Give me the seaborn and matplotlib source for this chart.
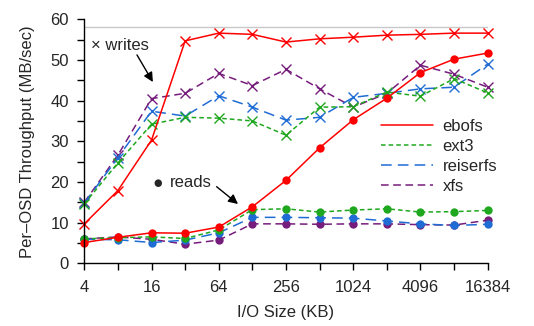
import numpy as np
import pandas as pd
import matplotlib
matplotlib.use("Agg")
import matplotlib.pyplot as plt
import seaborn as sns
from matplotlib.lines import Line2D
from matplotlib.ticker import FixedLocator, MultipleLocator, NullFormatter

sizes = [4, 8, 16, 32, 64, 128, 256, 512, 1024, 2048, 4096, 8192, 16384]
tick_labels = ["4", "16", "64", "256", "1024", "4096", "16384"]
fs_names = ["ebofs", "ext3", "reiserfs", "xfs"]

writes_ebofs = [9.7, 17.9, 30.3, 54.7, 56.6, 56.3, 54.4, 55.2, 55.6, 56.1, 56.3, 56.6, 56.6]
writes_ext3 = [14.6, 24.7, 34.2, 35.9, 35.7, 35.0, 31.5, 38.4, 38.5, 42.1, 41.1, 45.4, 41.9]
writes_reiserfs = [14.8, 26.0, 37.4, 36.2, 41.2, 38.4, 35.2, 35.9, 40.8, 41.8, 42.9, 43.3, 49.0]
writes_xfs = [15.0, 26.6, 40.5, 41.8, 46.7, 43.7, 47.7, 42.9, 38.4, 41.8, 48.7, 46.5, 43.3]

reads_ebofs = [5.1, 6.4, 7.5, 7.4, 8.9, 13.9, 20.4, 28.4, 35.3, 40.6, 46.9, 50.2, 51.7]
reads_ext3 = [6.0, 6.3, 6.5, 6.1, 8.2, 13.2, 13.4, 12.6, 13.1, 13.4, 12.6, 12.7, 13.0]
reads_reiserfs = [5.9, 5.8, 5.1, 5.7, 7.5, 11.3, 11.3, 11.2, 11.1, 10.4, 9.7, 9.3, 9.6]
reads_xfs = [6.0, 6.5, 5.9, 4.7, 5.7, 9.7, 9.7, 9.6, 9.7, 9.7, 9.5, 9.4, 10.6]

max_line = 58

colors = {"ebofs": "#ff0000", "ext3": "#1fa81f", "reiserfs": "#1f6cd4", "xfs": "#761c7c"}
styles = {"ebofs": "-", "ext3": (0, (3, 2)), "reiserfs": (0, (7, 4)), "xfs": (0, (5, 3))}

writes = dict(zip(fs_names, [writes_ebofs, writes_ext3, writes_reiserfs, writes_xfs]))
reads = dict(zip(fs_names, [reads_ebofs, reads_ext3, reads_reiserfs, reads_xfs]))

sns.set_style("ticks")
plt.rcParams["font.family"] = ["Liberation Sans", "DejaVu Sans"]
plt.rcParams["font.size"] = 12

fig = plt.figure(figsize=(5.34, 3.26), dpi=100)
ax = fig.add_axes([84.3 / 534, 1 - 263.3 / 326, 403.4 / 534, 244 / 326])

ax.axhline(max_line, color="#c8c8c8", lw=1, zorder=1)

order = ["xfs", "reiserfs", "ext3", "ebofs"]
for name in order:
    sns.lineplot(x=sizes, y=writes[name], ax=ax, color=colors[name], linestyle=styles[name],
                 marker="x", markersize=7, markeredgewidth=1.0, markeredgecolor=colors[name],
                 lw=1.1, clip_on=False)
for name in order:
    sns.lineplot(x=sizes, y=reads[name], ax=ax, color=colors[name], linestyle=styles[name],
                 marker="o", markersize=6, markeredgewidth=0, markerfacecolor=colors[name],
                 lw=1.1, clip_on=False)

ax.set_xscale("log", base=2)
ax.set_xlim(4, 16384)
ax.set_ylim(0, 60)
ax.xaxis.set_major_locator(FixedLocator([4, 16, 64, 256, 1024, 4096, 16384]))
ax.set_xticklabels(tick_labels)
ax.xaxis.set_minor_locator(FixedLocator([8, 32, 128, 512, 2048, 8192]))
ax.xaxis.set_minor_formatter(NullFormatter())
ax.yaxis.set_major_locator(MultipleLocator(10))
ax.yaxis.set_minor_locator(MultipleLocator(5))
ax.tick_params(which="both", direction="out", length=5, width=1, color="black", labelsize=12)
ax.tick_params(axis="x", pad=7)
ax.tick_params(axis="y", pad=6)
for s in ["top", "right"]:
    ax.spines[s].set_visible(False)
for s in ["left", "bottom"]:
    ax.spines[s].set_color("black")
    ax.spines[s].set_linewidth(1)

ax.set_xlabel("I/O Size (KB)", fontsize=12, labelpad=7)
ax.set_ylabel("Per\u2013OSD Throughput (MB/sec)", fontsize=12, labelpad=11)

handles = [Line2D([], [], color=colors[n], linestyle=styles[n], lw=1.1) for n in fs_names]
fig.legend(handles, fs_names, loc="upper left", bbox_to_anchor=(381 / 534, 1 - 119 / 326),
           frameon=False, borderpad=0, borderaxespad=0, handlelength=3.1, handletextpad=0.6,
           labelspacing=0.3, fontsize=12)

ax.text(0.016, 0.892, "\u00d7 writes", transform=ax.transAxes, ha="left", va="center", fontsize=12)
ax.annotate("", xy=(0.170, 0.743), xytext=(0.1306, 0.854), xycoords="axes fraction",
            textcoords="axes fraction",
            arrowprops=dict(arrowstyle="-|>", color="black", lw=1, mutation_scale=14,
                            shrinkA=0, shrinkB=0))
ax.text(0.182, 0.331, "\u25cf", transform=ax.transAxes, ha="center", va="center", fontsize=7,
        family="DejaVu Sans")
ax.text(0.213, 0.331, "reads", transform=ax.transAxes, ha="left", va="center", fontsize=12)
ax.annotate("", xy=(0.381, 0.243), xytext=(0.328, 0.314), xycoords="axes fraction",
            textcoords="axes fraction",
            arrowprops=dict(arrowstyle="-|>", color="black", lw=1, mutation_scale=14,
                            shrinkA=0, shrinkB=0))

fig.savefig("out.png", dpi=100)
